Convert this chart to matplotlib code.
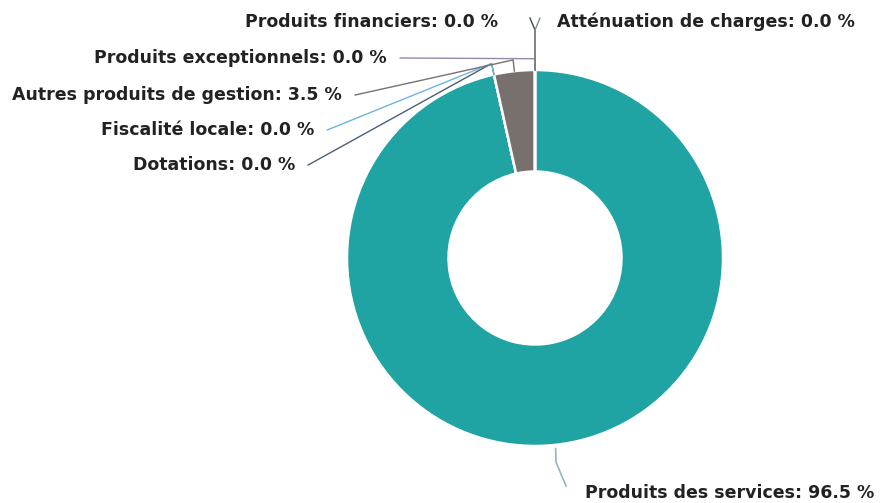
import matplotlib.pyplot as plt
import numpy as np

# Données (répartition des produits, %)
categories = ["Produits des services", "Dotations", "Fiscalité locale",
              "Autres produits de gestion", "Produits exceptionnels",
              "Produits financiers", "Atténuation de charges"]
values = [96.5, 0.0, 0.0, 3.5, 0.0, 0.0, 0.0]
colors = ["#1fa3a3", "#4a5f7a", "#6fb4e0", "#77706d", "#9a86a6", "#3d4a5a", "#8a8a8a"]

W, H = 880, 503
CX, CY, R = 535, 258, 188   # centre et rayon en pixels


def px(x, y):
    # pixels (origine en haut à gauche) -> unités du graphique (rayon = 1)
    return (x - CX) / R, (CY - y) / R


# positions des étiquettes (pixels) : (x, y, alignement)
label_pos = {
    "Produits des services": (585, 493, "left"),
    "Dotations": (295, 165, "right"),
    "Fiscalité locale": (314, 130, "right"),
    "Autres produits de gestion": (342, 95, "right"),
    "Produits exceptionnels": (387, 58, "right"),
    "Produits financiers": (498, 22, "right"),
    "Atténuation de charges": (557, 22, "left"),
}

fig = plt.figure(figsize=(W / 100, H / 100), dpi=100)
ax = fig.add_axes([0, 0, 1, 1])

ax.pie(values, colors=colors, startangle=90, counterclock=False, radius=1,
       wedgeprops=dict(width=0.54, edgecolor="white", linewidth=1.8), frame=True)
ax.set_xlim(-CX / R, (W - CX) / R)
ax.set_ylim(-(H - CY) / R, CY / R)
ax.axis("off")

total = sum(values)
cum = 0.0
for name, v, c in zip(categories, values, colors):
    mid = cum + v / 2
    cum += v
    ang = np.deg2rad(90 - mid / total * 360)
    sx, sy = np.cos(ang), np.sin(ang)
    ex, ey = np.cos(ang) * 1.06, np.sin(ang) * 1.06
    lx, ly, ha = label_pos[name]
    tx, ty = px(lx, ly)
    if name == "Produits des services":
        mx, my = px(556, 462)
        ex2, ey2 = px(566, 486)
        ax.plot([sx, mx, ex2], [sy - 0.02, my, ey2], color="#8fb8bf", lw=1.2)
    elif name in ("Produits financiers", "Atténuation de charges"):
        mx, my = px(535, 30)
        fx, fy = px(530 if ha == "right" else 540, 18)
        ax.plot([0, 0, mx, fx], [1.0, 1.0, my, fy], color=c, lw=1.0)
    else:
        off = 0.07
        ax.plot([sx, ex, tx + off], [sy, ey, ty], color=c, lw=1.0)
    ax.text(tx, ty, f"{name}: {v:.1f} %", ha=ha, va="center",
            fontsize=12.5, fontweight="bold", color="#222222")

fig.savefig("out.png", dpi=100)
